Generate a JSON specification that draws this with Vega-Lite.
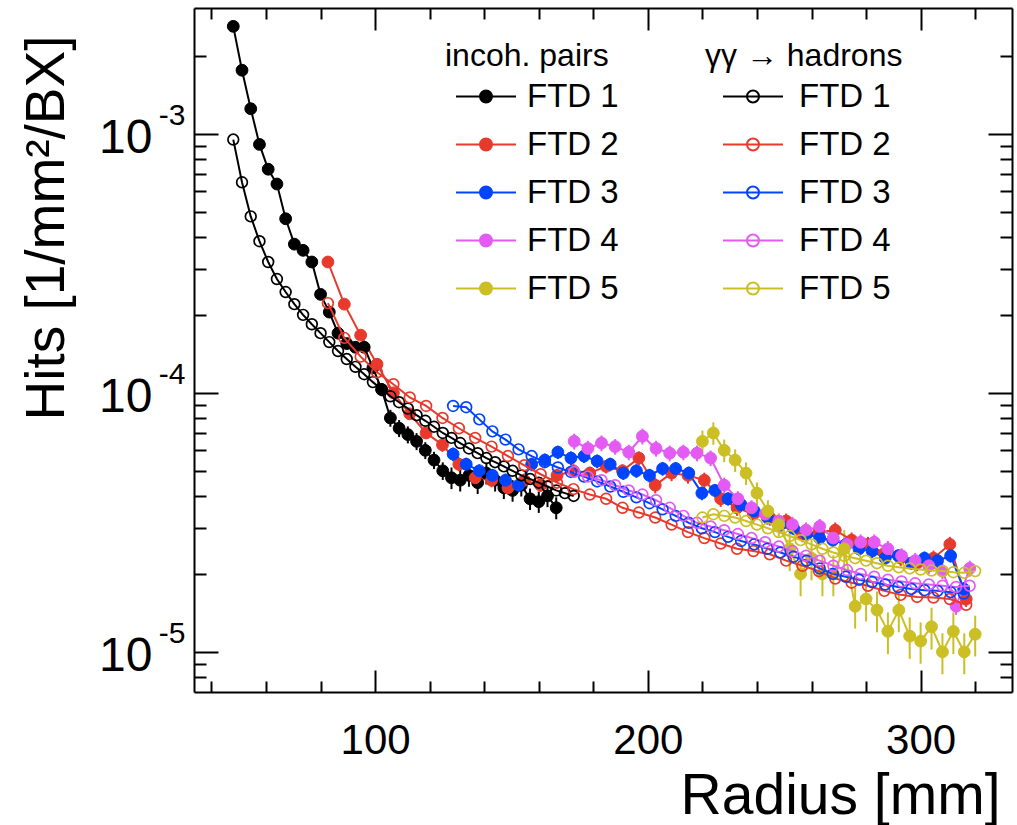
{
"$schema": "https://vega.github.io/schema/vega-lite/v6.json",
"width": 818, "height": 684,
"autosize": {"type": "none"},
"padding": {"left": 194, "top": 8, "right": 5, "bottom": 133},
"background": "white",
"config": {"view": {"stroke": null}, "font": "Liberation Sans"},
"datasets": {
"inc": [
{"d":1,"r":48.0,"h":2.6e-3,"e":5e-5},{"d":1,"r":51.2,"h":1.76e-3,"e":3.5e-5},{"d":1,"r":54.4,"h":1.25e-3,"e":2.5e-5},{"d":1,"r":57.6,"h":9.1e-4,"e":1.8e-5},{"d":1,"r":60.8,"h":7.3e-4,"e":1.5e-5},{"d":1,"r":64.0,"h":6.4e-4,"e":1.3e-5},{"d":1,"r":67.2,"h":4.7e-4,"e":1e-5},{"d":1,"r":70.4,"h":3.75e-4,"e":8e-6},{"d":1,"r":73.6,"h":3.55e-4,"e":7e-6},{"d":1,"r":76.8,"h":3.2e-4,"e":6e-6},{"d":1,"r":80.0,"h":2.4e-4,"e":1e-5},{"d":1,"r":83.2,"h":2.05e-4,"e":8e-6},{"d":1,"r":86.4,"h":1.7e-4,"e":7e-6},{"d":1,"r":89.6,"h":1.55e-4,"e":6e-6},{"d":1,"r":92.8,"h":1.5e-4,"e":6e-6},{"d":1,"r":96.0,"h":1.5e-4,"e":6e-6},{"d":1,"r":99.2,"h":1.25e-4,"e":6e-6},{"d":1,"r":102.4,"h":1.03e-4,"e":6e-6},{"d":1,"r":105.6,"h":8.0e-5,"e":6e-6},{"d":1,"r":108.8,"h":7.3e-5,"e":5.5e-6},{"d":1,"r":112.0,"h":6.9e-5,"e":5.2e-6},{"d":1,"r":115.2,"h":6.5e-5,"e":4.9e-6},{"d":1,"r":118.4,"h":6.0e-5,"e":4.5e-6},{"d":1,"r":121.6,"h":5.5e-5,"e":4.2e-6},{"d":1,"r":124.8,"h":5.0e-5,"e":3.9e-6},{"d":1,"r":128.0,"h":4.7e-5,"e":4.5e-6},{"d":1,"r":131.2,"h":4.6e-5,"e":4.4e-6},{"d":1,"r":134.4,"h":4.8e-5,"e":4.6e-6},{"d":1,"r":137.6,"h":4.5e-5,"e":4.3e-6},{"d":1,"r":140.8,"h":4.9e-5,"e":4.7e-6},{"d":1,"r":144.0,"h":4.6e-5,"e":4.4e-6},{"d":1,"r":147.2,"h":4.3e-5,"e":4.1e-6},{"d":1,"r":150.4,"h":4.2e-5,"e":4e-6},{"d":1,"r":153.6,"h":4.4e-5,"e":4.2e-6},{"d":1,"r":156.8,"h":3.9e-5,"e":3.7e-6},{"d":1,"r":160.0,"h":3.8e-5,"e":3.6e-6},{"d":1,"r":163.2,"h":4.0e-5,"e":3.8e-6},{"d":1,"r":166.4,"h":3.6e-5,"e":3.5e-6},
{"d":2,"r":82.7,"h":3.2e-4,"e":1.3e-5},{"d":2,"r":88.7,"h":2.2e-4,"e":9e-6},{"d":2,"r":94.7,"h":1.67e-4,"e":7e-6},{"d":2,"r":100.7,"h":1.29e-4,"e":5e-6},{"d":2,"r":106.7,"h":1.0e-4,"e":4e-6},{"d":2,"r":112.7,"h":8.3e-5,"e":3.3e-6},{"d":2,"r":118.7,"h":7.0e-5,"e":2.8e-6},{"d":2,"r":124.7,"h":6.3e-5,"e":3.8e-6},{"d":2,"r":130.7,"h":5.3e-5,"e":3.2e-6},{"d":2,"r":136.7,"h":4.7e-5,"e":2.8e-6},{"d":2,"r":142.7,"h":4.6e-5,"e":2.8e-6},{"d":2,"r":148.7,"h":4.3e-5,"e":2.6e-6},{"d":2,"r":154.7,"h":4.6e-5,"e":2.8e-6},{"d":2,"r":160.7,"h":4.4e-5,"e":2.6e-6},{"d":2,"r":166.7,"h":4.8e-5,"e":2.9e-6},{"d":2,"r":172.7,"h":5.0e-5,"e":3e-6},{"d":2,"r":178.7,"h":4.9e-5,"e":2.9e-6},{"d":2,"r":184.7,"h":5.2e-5,"e":3.1e-6},{"d":2,"r":190.7,"h":5.0e-5,"e":3e-6},{"d":2,"r":196.7,"h":5.6e-5,"e":3.4e-6},{"d":2,"r":202.7,"h":4.4e-5,"e":3.1e-6},{"d":2,"r":208.7,"h":4.9e-5,"e":3.4e-6},{"d":2,"r":214.7,"h":4.8e-5,"e":3.4e-6},{"d":2,"r":220.7,"h":4.6e-5,"e":3.2e-6},{"d":2,"r":226.7,"h":3.9e-5,"e":2.7e-6},{"d":2,"r":232.7,"h":3.6e-5,"e":2.5e-6},{"d":2,"r":238.7,"h":3.4e-5,"e":2.4e-6},{"d":2,"r":244.7,"h":3.3e-5,"e":2.3e-6},{"d":2,"r":250.7,"h":3.2e-5,"e":2.2e-6},{"d":2,"r":256.7,"h":2.85e-5,"e":2e-6},{"d":2,"r":262.7,"h":2.9e-5,"e":2e-6},{"d":2,"r":268.7,"h":2.95e-5,"e":2.1e-6},{"d":2,"r":274.7,"h":2.7e-5,"e":1.9e-6},{"d":2,"r":280.7,"h":2.6e-5,"e":1.8e-6},{"d":2,"r":286.7,"h":2.4e-5,"e":1.7e-6},{"d":2,"r":292.7,"h":2.3e-5,"e":1.6e-6},{"d":2,"r":298.7,"h":2.2e-5,"e":1.5e-6},{"d":2,"r":304.7,"h":2.3e-5,"e":1.6e-6},{"d":2,"r":310.7,"h":2.6e-5,"e":1.8e-6},{"d":2,"r":316.7,"h":1.6e-5,"e":1.1e-6},
{"d":3,"r":128.6,"h":5.8e-5,"e":3.5e-6},{"d":3,"r":133.4,"h":5.3e-5,"e":3.2e-6},{"d":3,"r":138.2,"h":5.0e-5,"e":3e-6},{"d":3,"r":143.0,"h":4.8e-5,"e":2.9e-6},{"d":3,"r":147.8,"h":4.6e-5,"e":2.8e-6},{"d":3,"r":152.6,"h":4.4e-5,"e":2.6e-6},{"d":3,"r":157.4,"h":5.3e-5,"e":3.2e-6},{"d":3,"r":162.2,"h":5.5e-5,"e":3.3e-6},{"d":3,"r":167.0,"h":5.9e-5,"e":3.5e-6},{"d":3,"r":171.8,"h":5.6e-5,"e":3.4e-6},{"d":3,"r":176.6,"h":5.7e-5,"e":3.4e-6},{"d":3,"r":181.4,"h":5.45e-5,"e":3.3e-6},{"d":3,"r":186.2,"h":5.3e-5,"e":3.2e-6},{"d":3,"r":191.0,"h":4.9e-5,"e":2.9e-6},{"d":3,"r":195.8,"h":5.0e-5,"e":3e-6},{"d":3,"r":200.6,"h":4.8e-5,"e":2.9e-6},{"d":3,"r":205.4,"h":5.1e-5,"e":3.1e-6},{"d":3,"r":210.2,"h":5.1e-5,"e":3.1e-6},{"d":3,"r":215.0,"h":4.9e-5,"e":2.9e-6},{"d":3,"r":219.8,"h":4.1e-5,"e":2.5e-6},{"d":3,"r":224.6,"h":4.2e-5,"e":2.5e-6},{"d":3,"r":229.4,"h":3.9e-5,"e":2.3e-6},{"d":3,"r":234.2,"h":3.7e-5,"e":2.2e-6},{"d":3,"r":239.0,"h":3.5e-5,"e":2.1e-6},{"d":3,"r":243.8,"h":3.3e-5,"e":2e-6},{"d":3,"r":248.6,"h":3.1e-5,"e":1.9e-6},{"d":3,"r":253.4,"h":3.0e-5,"e":1.8e-6},{"d":3,"r":258.2,"h":2.85e-5,"e":1.7e-6},{"d":3,"r":263.0,"h":2.75e-5,"e":1.7e-6},{"d":3,"r":267.8,"h":2.7e-5,"e":1.6e-6},{"d":3,"r":272.6,"h":2.6e-5,"e":1.6e-6},{"d":3,"r":277.4,"h":2.5e-5,"e":1.5e-6},{"d":3,"r":282.2,"h":2.45e-5,"e":1.5e-6},{"d":3,"r":287.0,"h":2.3e-5,"e":1.4e-6},{"d":3,"r":291.8,"h":2.35e-5,"e":1.4e-6},{"d":3,"r":296.6,"h":2.2e-5,"e":1.3e-6},{"d":3,"r":301.4,"h":2.3e-5,"e":1.4e-6},{"d":3,"r":306.2,"h":2.25e-5,"e":1.4e-6},{"d":3,"r":311.0,"h":2.35e-5,"e":1.4e-6},{"d":3,"r":315.8,"h":1.75e-5,"e":1.1e-6},
{"d":4,"r":173,"h":6.5e-5,"e":4.6e-6},{"d":4,"r":178,"h":6.1e-5,"e":4.3e-6},{"d":4,"r":183,"h":6.4e-5,"e":4.5e-6},{"d":4,"r":188,"h":6.2e-5,"e":4.3e-6},{"d":4,"r":193,"h":5.9e-5,"e":4.1e-6},{"d":4,"r":198,"h":6.8e-5,"e":4.8e-6},{"d":4,"r":203,"h":6.1e-5,"e":4.3e-6},{"d":4,"r":208,"h":5.85e-5,"e":4.1e-6},{"d":4,"r":213,"h":5.9e-5,"e":4.1e-6},{"d":4,"r":218,"h":5.85e-5,"e":4.1e-6},{"d":4,"r":223,"h":5.6e-5,"e":3.9e-6},{"d":4,"r":228,"h":4.4e-5,"e":3.1e-6},{"d":4,"r":233,"h":3.9e-5,"e":2.7e-6},{"d":4,"r":238,"h":3.6e-5,"e":2.5e-6},{"d":4,"r":243,"h":3.4e-5,"e":2.4e-6},{"d":4,"r":248,"h":3.2e-5,"e":2.2e-6},{"d":4,"r":253,"h":3.1e-5,"e":2.2e-6},{"d":4,"r":258,"h":2.95e-5,"e":2.1e-6},{"d":4,"r":263,"h":3.05e-5,"e":2.1e-6},{"d":4,"r":268,"h":2.75e-5,"e":1.9e-6},{"d":4,"r":273,"h":2.6e-5,"e":1.8e-6},{"d":4,"r":278,"h":2.65e-5,"e":1.9e-6},{"d":4,"r":283,"h":2.65e-5,"e":1.9e-6},{"d":4,"r":288,"h":2.5e-5,"e":1.8e-6},{"d":4,"r":293,"h":2.35e-5,"e":1.6e-6},{"d":4,"r":298,"h":2.25e-5,"e":1.6e-6},{"d":4,"r":303,"h":2.15e-5,"e":1.5e-6},{"d":4,"r":308,"h":2.05e-5,"e":1.4e-6},{"d":4,"r":313,"h":1.5e-5,"e":1.1e-6},{"d":4,"r":318,"h":2.1e-5,"e":1.5e-6},
{"d":5,"r":220,"h":6.5e-5,"e":6.5e-6},{"d":5,"r":224,"h":7.0e-5,"e":7e-6},{"d":5,"r":228,"h":6.0e-5,"e":6e-6},{"d":5,"r":232,"h":5.5e-5,"e":5.5e-6},{"d":5,"r":236,"h":4.9e-5,"e":4.9e-6},{"d":5,"r":240,"h":4.1e-5,"e":4.1e-6},{"d":5,"r":244,"h":3.5e-5,"e":3.5e-6},{"d":5,"r":248,"h":3.1e-5,"e":3.1e-6},{"d":5,"r":252,"h":2.5e-5,"e":4.5e-6},{"d":5,"r":256,"h":2.0e-5,"e":3.6e-6},{"d":5,"r":260,"h":2.3e-5,"e":4.1e-6},{"d":5,"r":264,"h":2.0e-5,"e":3.6e-6},{"d":5,"r":268,"h":2.0e-5,"e":3.6e-6},{"d":5,"r":272,"h":2.5e-5,"e":4.5e-6},{"d":5,"r":276,"h":1.5e-5,"e":2.7e-6},{"d":5,"r":280,"h":1.6e-5,"e":2.9e-6},{"d":5,"r":284,"h":1.45e-5,"e":2.6e-6},{"d":5,"r":288,"h":1.2e-5,"e":2.2e-6},{"d":5,"r":292,"h":1.45e-5,"e":2.6e-6},{"d":5,"r":296,"h":1.15e-5,"e":2.1e-6},{"d":5,"r":300,"h":1.1e-5,"e":2e-6},{"d":5,"r":304,"h":1.25e-5,"e":2.3e-6},{"d":5,"r":308,"h":1.0e-5,"e":1.8e-6},{"d":5,"r":312,"h":1.2e-5,"e":2.2e-6},{"d":5,"r":316,"h":1.0e-5,"e":1.8e-6},{"d":5,"r":320,"h":1.17e-5,"e":2.1e-6}
],
"gg": [
{"d":1,"r":48.0,"h":9.5e-4},{"d":1,"r":51.2,"h":6.5e-4},{"d":1,"r":54.4,"h":4.8e-4},{"d":1,"r":57.6,"h":3.85e-4},{"d":1,"r":60.8,"h":3.2e-4},{"d":1,"r":64.0,"h":2.75e-4},{"d":1,"r":67.2,"h":2.45e-4},{"d":1,"r":70.4,"h":2.2e-4},{"d":1,"r":73.6,"h":2.0e-4},{"d":1,"r":76.8,"h":1.84e-4},{"d":1,"r":80.0,"h":1.7e-4},{"d":1,"r":83.2,"h":1.57e-4},{"d":1,"r":86.4,"h":1.45e-4},{"d":1,"r":89.6,"h":1.35e-4},{"d":1,"r":92.8,"h":1.26e-4},{"d":1,"r":96.0,"h":1.18e-4},{"d":1,"r":99.2,"h":1.1e-4},{"d":1,"r":102.4,"h":1.03e-4},{"d":1,"r":105.6,"h":9.7e-5},{"d":1,"r":108.8,"h":9.2e-5},{"d":1,"r":112.0,"h":8.7e-5},{"d":1,"r":115.2,"h":8.2e-5},{"d":1,"r":118.4,"h":7.8e-5},{"d":1,"r":121.6,"h":7.4e-5},{"d":1,"r":124.8,"h":7.0e-5},{"d":1,"r":128.0,"h":6.7e-5},{"d":1,"r":131.2,"h":6.4e-5},{"d":1,"r":134.4,"h":6.1e-5},{"d":1,"r":137.6,"h":5.85e-5},{"d":1,"r":140.8,"h":5.6e-5},{"d":1,"r":144.0,"h":5.4e-5},{"d":1,"r":147.2,"h":5.2e-5},{"d":1,"r":150.4,"h":5.0e-5},{"d":1,"r":153.6,"h":4.8e-5},{"d":1,"r":156.8,"h":4.65e-5},{"d":1,"r":160.0,"h":4.5e-5},{"d":1,"r":163.2,"h":4.35e-5},{"d":1,"r":166.4,"h":4.2e-5},{"d":1,"r":169.6,"h":4.1e-5},{"d":1,"r":172.8,"h":4.0e-5},
{"d":2,"r":82.7,"h":2.22e-4},{"d":2,"r":88.7,"h":1.63e-4},{"d":2,"r":94.7,"h":1.38e-4},{"d":2,"r":100.7,"h":1.2e-4},{"d":2,"r":106.7,"h":1.08e-4},{"d":2,"r":112.7,"h":9.6e-5},{"d":2,"r":118.7,"h":8.9e-5},{"d":2,"r":124.7,"h":8.0e-5},{"d":2,"r":130.7,"h":7.3e-5},{"d":2,"r":136.7,"h":6.7e-5},{"d":2,"r":142.7,"h":6.2e-5},{"d":2,"r":148.7,"h":5.7e-5},{"d":2,"r":154.7,"h":5.25e-5},{"d":2,"r":160.7,"h":4.85e-5},{"d":2,"r":166.7,"h":4.5e-5},{"d":2,"r":172.7,"h":4.25e-5},{"d":2,"r":178.7,"h":4.05e-5},{"d":2,"r":184.7,"h":3.9e-5},{"d":2,"r":190.7,"h":3.6e-5},{"d":2,"r":196.7,"h":3.45e-5},{"d":2,"r":202.7,"h":3.3e-5},{"d":2,"r":208.7,"h":3.1e-5},{"d":2,"r":214.7,"h":2.9e-5},{"d":2,"r":220.7,"h":2.75e-5},{"d":2,"r":226.7,"h":2.62e-5},{"d":2,"r":232.7,"h":2.5e-5},{"d":2,"r":238.7,"h":2.45e-5},{"d":2,"r":244.7,"h":2.38e-5},{"d":2,"r":250.7,"h":2.25e-5},{"d":2,"r":256.7,"h":2.15e-5},{"d":2,"r":262.7,"h":2.05e-5},{"d":2,"r":268.7,"h":1.92e-5},{"d":2,"r":274.7,"h":1.85e-5},{"d":2,"r":280.7,"h":1.8e-5},{"d":2,"r":286.7,"h":1.72e-5},{"d":2,"r":292.7,"h":1.66e-5},{"d":2,"r":298.7,"h":1.63e-5},{"d":2,"r":304.7,"h":1.62e-5},{"d":2,"r":310.7,"h":1.6e-5},{"d":2,"r":316.7,"h":1.52e-5},
{"d":3,"r":128.6,"h":8.9e-5},{"d":3,"r":133.4,"h":8.8e-5},{"d":3,"r":138.2,"h":7.9e-5},{"d":3,"r":143.0,"h":7.1e-5},{"d":3,"r":147.8,"h":6.6e-5},{"d":3,"r":152.6,"h":6.05e-5},{"d":3,"r":157.4,"h":5.7e-5},{"d":3,"r":162.2,"h":5.4e-5},{"d":3,"r":167.0,"h":5.15e-5},{"d":3,"r":171.8,"h":4.95e-5},{"d":3,"r":176.6,"h":4.75e-5},{"d":3,"r":181.4,"h":4.55e-5},{"d":3,"r":186.2,"h":4.35e-5},{"d":3,"r":191.0,"h":4.15e-5},{"d":3,"r":195.8,"h":3.95e-5},{"d":3,"r":200.6,"h":3.75e-5},{"d":3,"r":205.4,"h":3.55e-5},{"d":3,"r":210.2,"h":3.35e-5},{"d":3,"r":215.0,"h":3.15e-5},{"d":3,"r":219.8,"h":3.0e-5},{"d":3,"r":224.6,"h":2.9e-5},{"d":3,"r":229.4,"h":2.78e-5},{"d":3,"r":234.2,"h":2.68e-5},{"d":3,"r":239.0,"h":2.6e-5},{"d":3,"r":243.8,"h":2.5e-5},{"d":3,"r":248.6,"h":2.42e-5},{"d":3,"r":253.4,"h":2.33e-5},{"d":3,"r":258.2,"h":2.25e-5},{"d":3,"r":263.0,"h":2.1e-5},{"d":3,"r":267.8,"h":2.0e-5},{"d":3,"r":272.6,"h":1.95e-5},{"d":3,"r":277.4,"h":1.9e-5},{"d":3,"r":282.2,"h":1.86e-5},{"d":3,"r":287.0,"h":1.82e-5},{"d":3,"r":291.8,"h":1.78e-5},{"d":3,"r":296.6,"h":1.75e-5},{"d":3,"r":301.4,"h":1.73e-5},{"d":3,"r":306.2,"h":1.72e-5},{"d":3,"r":311.0,"h":1.7e-5},{"d":3,"r":315.8,"h":1.68e-5},
{"d":4,"r":173,"h":4.95e-5},{"d":4,"r":178,"h":4.75e-5},{"d":4,"r":183,"h":4.6e-5},{"d":4,"r":188,"h":4.4e-5},{"d":4,"r":193,"h":4.2e-5},{"d":4,"r":198,"h":4.05e-5},{"d":4,"r":203,"h":3.85e-5},{"d":4,"r":208,"h":3.6e-5},{"d":4,"r":213,"h":3.35e-5},{"d":4,"r":218,"h":3.15e-5},{"d":4,"r":223,"h":3.05e-5},{"d":4,"r":228,"h":2.95e-5},{"d":4,"r":233,"h":2.85e-5},{"d":4,"r":238,"h":2.75e-5},{"d":4,"r":243,"h":2.65e-5},{"d":4,"r":248,"h":2.55e-5},{"d":4,"r":253,"h":2.45e-5},{"d":4,"r":258,"h":2.35e-5},{"d":4,"r":263,"h":2.25e-5},{"d":4,"r":268,"h":2.15e-5},{"d":4,"r":273,"h":2.07e-5},{"d":4,"r":278,"h":2.0e-5},{"d":4,"r":283,"h":1.95e-5},{"d":4,"r":288,"h":1.9e-5},{"d":4,"r":293,"h":1.87e-5},{"d":4,"r":298,"h":1.84e-5},{"d":4,"r":303,"h":1.82e-5},{"d":4,"r":308,"h":1.8e-5},{"d":4,"r":313,"h":1.78e-5},{"d":4,"r":318,"h":1.8e-5},
{"d":5,"r":220,"h":3.3e-5},{"d":5,"r":224,"h":3.4e-5},{"d":5,"r":228,"h":3.35e-5},{"d":5,"r":232,"h":3.3e-5},{"d":5,"r":236,"h":3.2e-5},{"d":5,"r":240,"h":3.1e-5},{"d":5,"r":244,"h":3.0e-5},{"d":5,"r":248,"h":2.9e-5},{"d":5,"r":252,"h":2.8e-5},{"d":5,"r":256,"h":2.7e-5},{"d":5,"r":260,"h":2.6e-5},{"d":5,"r":264,"h":2.5e-5},{"d":5,"r":268,"h":2.42e-5},{"d":5,"r":272,"h":2.35e-5},{"d":5,"r":276,"h":2.3e-5},{"d":5,"r":280,"h":2.25e-5},{"d":5,"r":284,"h":2.2e-5},{"d":5,"r":288,"h":2.15e-5},{"d":5,"r":292,"h":2.12e-5},{"d":5,"r":296,"h":2.1e-5},{"d":5,"r":300,"h":2.08e-5},{"d":5,"r":304,"h":2.06e-5},{"d":5,"r":308,"h":2.05e-5},{"d":5,"r":312,"h":2.03e-5},{"d":5,"r":316,"h":2.02e-5},{"d":5,"r":320,"h":2.05e-5}
]
},
"layer": [
{
"data": {"name": "inc"},
"layer": [
{
"mark": {"type": "errorbar", "thickness": 2, "clip": true},
"encoding": {
"x": {"field": "r", "type": "quantitative", "scale": {"domain": [33.6, 333.5], "nice": false, "zero": false},
 "axis": {"orient": "bottom", "values": [40,60,80,100,120,140,160,180,200,220,240,260,280,300,320], "format": "d", "labelExpr": "datum.value % 100 === 0 ? datum.label : ''", "tickSize": {"condition": {"test": "datum.value % 100 === 0", "value": -22}, "value": -11}, "tickWidth": 2, "tickColor": "black", "domainColor": "black", "domainWidth": 2, "grid": false, "labelFont": "Liberation Sans", "labelFontSize": 42, "labelColor": "black", "labelPadding": 50, "labelFlush": false, "labelOverlap": false, "title": "Radius [mm]", "titleFont": "Liberation Sans", "titleFontSize": 57, "titleFontWeight": "normal", "titleColor": "black", "titleAnchor": "end", "titleAlign": "right", "titleBaseline": "alphabetic", "titleX": 806, "titleY": 121}},
"y": {"field": "h", "type": "quantitative", "scale": {"type": "log", "domain": [7.0e-6, 3.06e-3], "nice": false},
 "axis": {"orient": "left", "values": [8e-6,9e-6,1e-5,2e-5,3e-5,4e-5,5e-5,6e-5,7e-5,8e-5,9e-5,1e-4,2e-4,3e-4,4e-4,5e-4,6e-4,7e-4,8e-4,9e-4,1e-3,2e-3], "labelExpr": "datum.value === 0.001 || datum.value === 0.0001 || datum.value === 0.00001 ? '10' : ''", "tickSize": {"condition": {"test": "datum.value === 0.001 || datum.value === 0.0001 || datum.value === 0.00001", "value": -24}, "value": -12}, "tickWidth": 2, "tickColor": "black", "domainColor": "black", "domainWidth": 2, "grid": false, "labelFont": "Liberation Sans", "labelFontSize": 48, "labelColor": "black", "labelPadding": 66, "labelOffset": 5, "labelBaseline": "middle", "labelFlush": false, "labelOverlap": false, "title": "Hits [1/mm²/BX]", "titleFont": "Liberation Sans", "titleFontSize": 55, "titleFontWeight": "normal", "titleColor": "black", "titleAnchor": "end", "titleAlign": "right", "titleBaseline": "alphabetic", "titleAngle": 270, "titleX": -131, "titleY": 27}},
"yError": {"field": "e"},
"color": {"field": "d", "type": "nominal", "scale": {"domain": [1,2,3,4,5], "range": ["#000000","#e8392d","#0044ff","#e35bf2","#cbbf24"]}, "legend": null}
}
},
{
"mark": {"type": "line", "strokeWidth": 2, "clip": true},
"encoding": {
"x": {"field": "r", "type": "quantitative"},
"y": {"field": "h", "type": "quantitative"},
"color": {"field": "d", "type": "nominal", "legend": null}
}
},
{
"mark": {"type": "point", "filled": true, "shape": "circle", "size": 140, "opacity": 1, "strokeWidth": 1, "clip": true},
"encoding": {
"x": {"field": "r", "type": "quantitative"},
"y": {"field": "h", "type": "quantitative"},
"fill": {"field": "d", "type": "nominal", "scale": {"domain": [1,2,3,4,5], "range": ["#000000","#e8392d","#0044ff","#e35bf2","#cbbf24"]},
 "legend": {"title": "incoh. pairs", "orient": "none", "legendX": 251, "legendY": 33, "padding": 0, "titleLimit": 500, "symbolType": "M-1,0L1,0M-0.2,0A0.2,0.2,0,1,0,0.2,0A0.2,0.2,0,1,0,-0.2,0Z", "symbolSize": 3600, "symbolStrokeWidth": 2, "symbolOffset": 10, "labelOffset": 10, "labelExpr": "'FTD ' + datum.label", "labelFont": "Liberation Sans", "labelFontSize": 33, "labelColor": "black", "titleFont": "Liberation Sans", "titleFontSize": 32, "titleFontWeight": "normal", "titleColor": "black", "titlePadding": -7.5, "rowPadding": -8}},
"stroke": {"field": "d", "type": "nominal", "scale": {"domain": [1,2,3,4,5], "range": ["#000000","#e8392d","#0044ff","#e35bf2","#cbbf24"]},
 "legend": {"title": "incoh. pairs", "orient": "none", "legendX": 251, "legendY": 33, "padding": 0, "titleLimit": 500, "symbolType": "M-1,0L1,0M-0.2,0A0.2,0.2,0,1,0,0.2,0A0.2,0.2,0,1,0,-0.2,0Z", "symbolSize": 3600, "symbolStrokeWidth": 2, "symbolOffset": 10, "labelOffset": 10, "labelExpr": "'FTD ' + datum.label", "labelFont": "Liberation Sans", "labelFontSize": 33, "labelColor": "black", "titleFont": "Liberation Sans", "titleFontSize": 32, "titleFontWeight": "normal", "titleColor": "black", "titlePadding": -7.5, "rowPadding": -8}}
}
}
]
},
{
"data": {"name": "gg"},
"layer": [
{
"mark": {"type": "line", "strokeWidth": 2, "clip": true},
"encoding": {
"x": {"field": "r", "type": "quantitative", "scale": {"domain": [33.6, 333.5], "nice": false, "zero": false},
 "axis": {"orient": "top", "values": [40,60,80,100,120,140,160,180,200,220,240,260,280,300,320], "labels": false, "tickSize": {"condition": {"test": "datum.value % 100 === 0", "value": -22}, "value": -11}, "tickWidth": 2, "tickColor": "black", "domainColor": "black", "domainWidth": 2, "grid": false, "title": null}},
"y": {"field": "h", "type": "quantitative", "scale": {"type": "log", "domain": [7.0e-6, 3.06e-3], "nice": false},
 "axis": {"orient": "right", "values": [8e-6,9e-6,1e-5,2e-5,3e-5,4e-5,5e-5,6e-5,7e-5,8e-5,9e-5,1e-4,2e-4,3e-4,4e-4,5e-4,6e-4,7e-4,8e-4,9e-4,1e-3,2e-3], "labels": false, "tickSize": {"condition": {"test": "datum.value === 0.001 || datum.value === 0.0001 || datum.value === 0.00001", "value": -24}, "value": -12}, "tickWidth": 2, "tickColor": "black", "domainColor": "black", "domainWidth": 2, "grid": false, "title": null}},
"color": {"field": "d", "type": "nominal", "scale": {"domain": [1,2,3,4,5], "range": ["#000000","#e8392d","#0044ff","#e35bf2","#cbbf24"]}, "legend": null}
}
},
{
"mark": {"type": "point", "filled": false, "shape": "circle", "size": 115, "opacity": 1, "strokeWidth": 1.7, "clip": true},
"encoding": {
"x": {"field": "r", "type": "quantitative"},
"y": {"field": "h", "type": "quantitative"},
"stroke": {"field": "d", "type": "nominal", "scale": {"domain": [1,2,3,4,5], "range": ["#000000","#e8392d","#0044ff","#e35bf2","#cbbf24"]},
 "legend": {"title": "γγ → hadrons", "orient": "none", "legendX": 511, "legendY": 33, "padding": 0, "titleLimit": 500, "symbolType": "M-1,0L1,0M-0.2,0A0.2,0.2,0,1,0,0.2,0A0.2,0.2,0,1,0,-0.2,0Z", "symbolSize": 3600, "symbolStrokeWidth": 2, "symbolFillColor": "transparent", "symbolOffset": 17, "labelOffset": 15, "labelExpr": "'FTD ' + datum.label", "labelFont": "Liberation Sans", "labelFontSize": 33, "labelColor": "black", "titleFont": "Liberation Sans", "titleFontSize": 32, "titleFontWeight": "normal", "titleColor": "black", "titlePadding": -7.5, "rowPadding": -8}}
}
}
]
},
{
"data": {"name": "gg"},
"mark": {"type": "point", "opacity": 0},
"encoding": {
"x": {"field": "r", "type": "quantitative", "scale": {"domain": [33.6, 333.5], "nice": false, "zero": false}, "axis": null},
"y": {"field": "h", "type": "quantitative", "scale": {"type": "log", "domain": [7.0e-6, 3.06e-3], "nice": false},
 "axis": {"orient": "left", "values": [1e-5, 1e-4, 1e-3], "labelExpr": "datum.value === 0.001 ? '-3' : datum.value === 0.0001 ? '-4' : '-5'", "ticks": false, "domain": false, "grid": false, "labelFont": "Liberation Sans", "labelFontSize": 30, "labelColor": "black", "labelPadding": 9, "labelOffset": -18, "labelBaseline": "middle", "labelFlush": false, "labelOverlap": false, "title": null}}
}
}
],
"resolve": {"scale": {"fill": "independent", "stroke": "independent"}, "axis": {"x": "independent", "y": "independent"}}
}
